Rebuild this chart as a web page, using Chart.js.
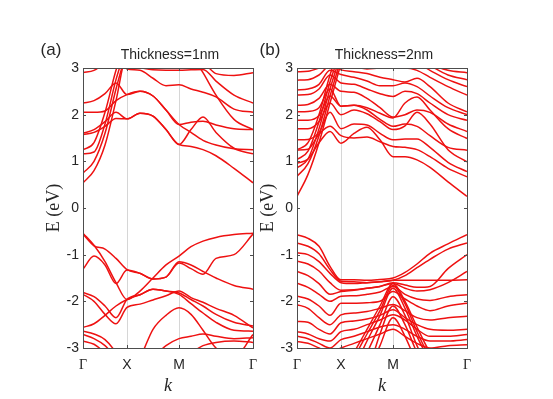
<!DOCTYPE html>
<html>
<head>
<meta charset="utf-8">
<title>band structure</title>
<script src="https://cdn.jsdelivr.net/npm/chart.js"></script>
<style>
    body { margin: 0; background: #fff; }
    #wrap { position: relative; width: 553px; height: 399px; overflow: hidden; background: #fff; }
    canvas { position: absolute; top: 0; }
</style>
</head>
<body>
<div id="wrap">
    <canvas id="chartA" width="272" height="399" style="left:0px"></canvas>
    <canvas id="chartB" width="298" height="399" style="left:255px"></canvas>
</div>
<script>
    // k path (pixel-like units): Gamma - X - M - Gamma
    const kGrid = [0, 11, 22, 33, 44, 57, 70, 83, 96, 108, 120, 133, 151, 170];
    const kTicks = [0, 44, 96, 170];
    const kLabels = ['Γ', 'X', 'M', 'Γ'];

    // (a) Thickness=1nm, energies in eV at each kGrid point (null = far off the plot)
    const condA = [
        [0.54, 0.80, 1.35, 2.30, 3.30, null, null, null, 3.50, 3.30, 2.90, 2.42, 1.90, 1.68],
        [0.75, 1.00, 1.60, 2.55, 3.40, null, null, null, null, null, null, null, null, null],
        [1.16, 1.20, 1.80, 2.75, 3.50, null, null, null, null, null, null, null, null, null],
        [1.25, 1.40, 2.05, 2.95, 3.60, null, null, null, null, null, null, null, null, null],
        [1.60, 1.68, 1.85, 2.05, 1.91, 2.03, 1.97, 1.68, 1.36, 1.32, 1.25, 1.12, 0.85, 0.54],
        [1.57, 1.62, 1.75, 1.92, 1.91, 2.03, 1.97, 1.68, 1.36, 1.68, 1.95, 1.62, 1.28, 1.16],
        [2.05, 2.05, 2.08, 2.30, 2.43, 2.50, 2.40, 2.10, 1.79, 1.84, 1.86, 1.78, 1.70, 1.68],
        [2.25, 2.30, 2.45, 2.68, 2.43, 2.50, 2.40, 2.10, 1.79, 1.62, 1.45, 1.35, 1.27, 1.25],
        [2.90, 2.95, 3.10, 3.20, 2.98, 2.95, 2.78, 2.62, 2.64, 2.55, 2.48, 2.38, 2.12, 2.05],
        [3.30, 3.30, 3.30, 3.10, 3.00, 3.00, 2.96, 2.95, 2.95, 2.96, 2.97, 2.72, 2.42, 2.25],
        [3.40, 3.40, 3.40, 3.30, 3.20, 3.10, 3.05, 3.02, 3.00, 3.02, 3.08, 2.88, 2.84, 2.90]
    ];
    const valA = [
        [-0.54, -0.80, -1.15, -1.60, -1.96, -1.78, -1.50, -1.22, -1.03, -0.83, -0.71, -0.63, -0.57, -0.54],
        [-0.56, -0.81, -0.88, -1.08, -1.32, -1.40, -1.52, -1.48, -1.18, -1.30, -1.42, -1.08, -1.00, -0.56],
        [-1.31, -1.03, -1.22, -1.62, -1.33, -1.40, -1.52, -1.48, -1.15, -1.22, -1.36, -1.50, -1.66, -1.74],
        [-1.81, -1.90, -2.10, -2.35, -1.96, -1.86, -1.74, -1.78, -1.82, -1.96, -2.10, -2.28, -2.45, -2.53],
        [-1.85, -2.00, -2.28, -2.48, -2.13, -2.06, -1.97, -1.88, -1.78, -1.92, -2.02, -2.15, -2.30, -2.57],
        [-2.56, -2.48, -2.30, -2.10, -1.96, -1.86, -1.74, -1.78, -1.85, -2.05, -2.25, -2.45, -2.62, -2.64],
        [-2.64, -2.70, -2.82, -3.10, -3.50, -3.20, -2.60, -2.30, -2.14, -2.28, -2.62, -3.00, -3.20, -2.71],
        [-2.71, -2.80, -2.95, -3.20, -3.40, -3.40, -3.20, -2.95, -2.80, -2.75, -2.70, -2.75, -2.80, -2.78],
        [-2.85, -2.92, -3.10, -3.30, -3.40, null, null, -3.40, -3.20, -3.10, -2.95, -2.88, -2.85, -2.88]
    ];

    // (b) Thickness=2nm
    const condB = [
        [0.25, 0.72, 1.40, 2.25, 3.10, null, null, null, null, null, null, null, null, null],
        [0.68, 0.95, 1.55, 2.40, 3.20, null, null, null, null, null, null, null, null, null],
        [0.86, 1.05, 1.70, 2.55, 3.30, null, null, null, null, null, null, null, null, null],
        [1.04, 1.22, 1.85, 2.70, 3.40, null, null, null, null, null, null, null, null, null],
        [1.25, 1.40, 2.00, 2.85, 3.50, null, null, null, null, null, null, null, null, null],
        [0.96, 1.05, 1.40, 1.64, 1.39, 1.60, 1.73, 1.46, 1.10, 1.10, 1.03, 0.87, 0.56, 0.25],
        [1.24, 1.26, 1.58, 1.75, 1.55, 1.50, 1.52, 1.42, 1.32, 1.30, 1.25, 1.10, 0.85, 0.67],
        [1.46, 1.47, 1.62, 2.05, 1.70, 1.80, 1.78, 1.60, 1.46, 1.48, 1.48, 1.30, 0.98, 0.78],
        [1.70, 1.70, 1.85, 2.25, 2.00, 2.10, 2.02, 1.85, 1.68, 1.76, 2.05, 1.80, 1.25, 0.99],
        [1.88, 1.88, 1.98, 2.40, 2.18, 2.20, 2.10, 1.90, 1.75, 1.80, 1.75, 1.55, 1.30, 1.24],
        [2.06, 2.07, 2.15, 2.55, 2.18, 2.20, 2.15, 2.03, 1.93, 2.25, 2.38, 2.10, 1.70, 1.49],
        [2.20, 2.22, 2.35, 2.65, 2.50, 2.48, 2.35, 2.15, 1.95, 2.00, 2.10, 2.05, 1.80, 1.64],
        [2.42, 2.43, 2.55, 2.85, 2.68, 2.65, 2.55, 2.45, 2.39, 2.50, 2.45, 2.25, 2.00, 1.88],
        [2.53, 2.55, 2.65, 2.95, 2.86, 2.80, 2.72, 2.62, 2.62, 2.68, 2.60, 2.40, 2.15, 2.00],
        [2.74, 2.75, 2.85, 3.05, 2.96, 2.92, 2.88, 2.80, 2.75, 2.70, 2.78, 2.60, 2.25, 2.06],
        [2.92, 2.93, 3.00, 3.10, 3.05, 3.02, 2.98, 3.00, 3.00, 3.00, 2.95, 2.80, 2.60, 2.42],
        [3.10, 3.10, 3.15, 3.20, 3.20, 3.20, 3.10, 3.10, 3.20, 3.15, 3.10, 2.95, 2.75, 2.60],
        [3.30, 3.30, 3.30, 3.30, 3.30, 3.30, 3.20, 3.20, 3.30, 3.30, 3.20, 3.05, 2.85, 2.75],
        [3.40, 3.40, 3.40, 3.40, 3.40, 3.40, 3.30, 3.30, 3.40, 3.40, 3.30, 3.10, 2.95, 2.90]
    ];
    const valB = [
        [-0.57, -0.65, -0.82, -1.25, -1.54, -1.54, -1.55, -1.53, -1.50, -1.38, -1.20, -0.97, -0.77, -0.57],
        [-0.75, -0.82, -0.98, -1.32, -1.57, -1.58, -1.60, -1.58, -1.55, -1.45, -1.28, -1.10, -0.88, -0.75],
        [-0.96, -1.00, -1.15, -1.40, -1.60, -1.62, -1.60, -1.58, -1.55, -1.55, -1.55, -1.55, -1.55, -1.54],
        [-1.14, -1.20, -1.35, -1.60, -1.76, -1.75, -1.72, -1.68, -1.60, -1.65, -1.70, -1.68, -1.30, -1.00],
        [-1.36, -1.45, -1.62, -1.85, -1.79, -1.76, -1.72, -1.68, -1.62, -1.72, -1.78, -1.75, -1.60, -1.36],
        [-1.61, -1.70, -1.85, -2.00, -1.89, -1.88, -1.85, -1.80, -1.68, -1.85, -1.95, -1.98, -1.90, -1.86],
        [-1.89, -1.95, -2.10, -2.30, -2.04, -2.04, -2.03, -2.00, -1.79, -1.95, -2.10, -2.20, -2.10, -2.04],
        [-2.07, -2.15, -2.35, -2.50, -2.29, -2.25, -2.22, -2.15, -2.07, -2.20, -2.35, -2.40, -2.35, -2.32],
        [-2.43, -2.45, -2.60, -2.70, -2.46, -2.42, -2.38, -2.30, -2.18, -2.35, -2.50, -2.60, -2.62, -2.60],
        [-2.65, -2.70, -2.80, -2.85, -2.65, -2.60, -2.50, -2.40, -2.29, -2.40, -2.60, -2.75, -2.75, -2.71],
        [-2.75, -2.80, -2.90, -3.00, -2.82, -2.75, -2.65, -2.55, -2.50, -2.60, -2.75, -2.85, -2.85, -2.82],
        [-2.86, -2.90, -3.00, -3.10, -3.00, -2.90, -2.80, -2.70, -2.60, -2.75, -2.90, -3.00, -2.95, -2.93],
        [null, null, null, null, -3.60, -3.10, -2.60, -2.10, -1.62, -2.00, -2.55, -3.10, -3.60, null],
        [null, null, null, null, -3.60, -3.20, -2.70, -2.20, -1.66, -2.05, -2.65, -3.20, -3.60, null],
        [null, null, null, null, -3.60, -3.40, -2.85, -2.30, -1.72, -2.15, -2.75, -3.30, null, null],
        [null, null, null, null, null, -3.60, -3.10, -2.50, -1.90, -2.30, -2.95, -3.50, null, null],
        [null, null, null, null, null, null, -3.60, -2.70, -2.10, -2.50, -3.10, -3.60, null, null],
        [null, null, null, null, null, null, -3.60, -2.95, -2.35, -2.75, -3.35, null, null, null]
    ];

    const bandColor = '#ee1111';
    const textColor = '#262626';

    const framePlugin = {
        id: 'frame',
        afterDraw(chart, args, opts) {
            const { ctx, chartArea: a, scales } = chart;
            ctx.save();
            ctx.strokeStyle = '#4d4d4d';
            ctx.lineWidth = 1;
            ctx.beginPath();
            // inward ticks on y (left and right) and x (bottom and top)
            for (let e = -3; e <= 3; e++) {
                const y = Math.round(scales.y.getPixelForValue(e)) + 0.5;
                ctx.moveTo(a.left, y); ctx.lineTo(a.left + 3, y);
                ctx.moveTo(a.right, y); ctx.lineTo(a.right - 3, y);
            }
            kTicks.forEach(k => {
                const x = Math.round(scales.x.getPixelForValue(k)) + 0.5;
                ctx.moveTo(x, a.bottom); ctx.lineTo(x, a.bottom - 3);
                ctx.moveTo(x, a.top); ctx.lineTo(x, a.top + 3);
            });
            ctx.stroke();
            ctx.strokeRect(Math.round(a.left) + 0.5, Math.round(a.top) + 0.5,
                Math.round(a.right - a.left), Math.round(a.bottom - a.top));
            // panel label and title
            ctx.fillStyle = textColor;
            ctx.textAlign = 'center';
            ctx.textBaseline = 'middle';
            ctx.font = '17px "Liberation Sans"';
            ctx.fillText(opts.panel, opts.panelX, 50);
            ctx.font = '14px "Liberation Sans"';
            ctx.fillText(opts.title, (a.left + a.right) / 2 + 2, 55);
            ctx.restore();
        }
    };

    function makeChart(id, bands, panel, panelX, title, yWidth, padRight, yTitlePad) {
        const datasets = bands.map(b => ({
            data: kGrid.map((k, i) => ({ x: k, y: b[i] })).filter(p => p.y !== null),
            borderColor: bandColor,
            borderWidth: 1.5,
            pointRadius: 0,
            showLine: true,
            fill: false,
            cubicInterpolationMode: 'monotone'
        }));
        return new Chart(document.getElementById(id), {
            type: 'scatter',
            data: { datasets },
            options: {
                responsive: false,
                animation: false,
                layout: { padding: { left: 0, right: padRight, top: 68, bottom: 0 } },
                plugins: {
                    legend: { display: false },
                    tooltip: { enabled: false },
                    frame: { panel, panelX, title }
                },
                scales: {
                    x: {
                        type: 'linear', min: 0, max: 170,
                        afterBuildTicks: s => { s.ticks = kTicks.map(v => ({ value: v })); },
                        afterFit: s => { s.height = 51; },
                        ticks: {
                            autoSkip: false, maxRotation: 0, padding: 9, color: textColor,
                            callback: (v, i) => kLabels[i],
                            font: c => ({ family: (c.index === 1 || c.index === 2) ? 'Liberation Sans' : 'Liberation Serif', size: 14 })
                        },
                        grid: {
                            drawTicks: false,
                            color: c => (c.tick && (c.tick.value === 44 || c.tick.value === 96)) ? '#d6d6d6' : 'rgba(0,0,0,0)'
                        },
                        border: { display: false },
                        title: {
                            display: true, text: 'k', color: textColor,
                            font: { family: 'Liberation Serif', size: 18, style: 'italic' },
                            padding: { top: 0, bottom: 2 }
                        }
                    },
                    y: {
                        min: -3, max: 3,
                        afterFit: s => { s.width = yWidth; },
                        ticks: { stepSize: 1, padding: 4, color: textColor, font: { family: 'Liberation Sans', size: 14 } },
                        grid: { display: false, drawTicks: false },
                        border: { display: false },
                        title: {
                            display: true, text: 'E (eV)', color: textColor,
                            font: { family: 'Liberation Serif', size: 18 },
                            padding: { top: yTitlePad, bottom: 0 }
                        }
                    }
                }
            },
            plugins: [framePlugin]
        });
    }

    makeChart('chartA', condA.concat(valA), '(a)', 51, 'Thickness=1nm', 83, 19, 43);
    makeChart('chartB', condB.concat(valB), '(b)', 15, 'Thickness=2nm', 42, 86, 2);
</script>
</body>
</html>
